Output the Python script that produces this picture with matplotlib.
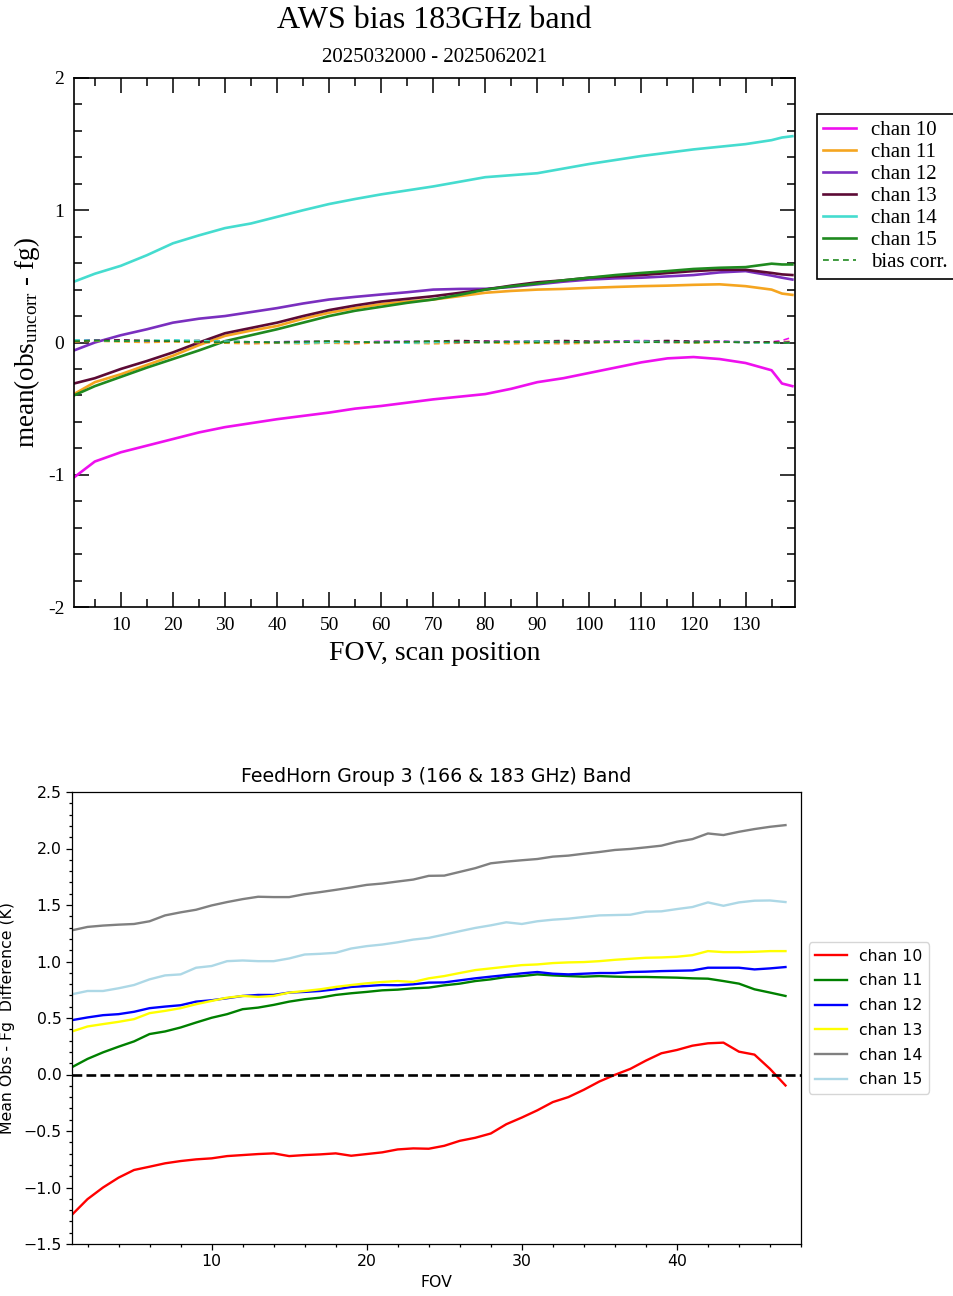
import matplotlib
matplotlib.use("Agg")
import matplotlib.pyplot as plt
from matplotlib.ticker import MultipleLocator, AutoMinorLocator

# ---------------- data: top panel (AWS bias, 183GHz band) ----------------
top_fov = [1, 5, 10, 15, 20, 25, 30, 35, 40, 45, 50, 55, 60, 65, 70, 75, 80, 85,
           90, 95, 100, 105, 110, 115, 120, 125, 130, 135, 137, 139]
top_chan10 = [-1.02, -0.90, -0.83, -0.78, -0.73, -0.68, -0.64, -0.61, -0.58, -0.555,
              -0.53, -0.50, -0.48, -0.455, -0.43, -0.41, -0.39, -0.35, -0.30, -0.27,
              -0.23, -0.19, -0.15, -0.12, -0.11, -0.125, -0.155, -0.21, -0.31, -0.33]
top_chan11 = [-0.39, -0.30, -0.24, -0.17, -0.10, -0.02, 0.05, 0.09, 0.125, 0.18,
              0.225, 0.26, 0.29, 0.31, 0.325, 0.35, 0.376, 0.39, 0.40, 0.405,
              0.413, 0.42, 0.426, 0.43, 0.436, 0.44, 0.426, 0.40, 0.37, 0.36]
top_chan12 = [-0.06, 0.0, 0.055, 0.10, 0.15, 0.18, 0.20, 0.23, 0.26, 0.295,
              0.325, 0.345, 0.363, 0.38, 0.40, 0.405, 0.406, 0.42, 0.44, 0.46,
              0.476, 0.485, 0.49, 0.50, 0.51, 0.53, 0.54, 0.506, 0.49, 0.476]
top_chan13 = [-0.31, -0.27, -0.20, -0.14, -0.075, 0.0, 0.07, 0.11, 0.15, 0.20,
              0.245, 0.28, 0.31, 0.33, 0.35, 0.375, 0.40, 0.43, 0.455, 0.47,
              0.49, 0.50, 0.51, 0.525, 0.54, 0.55, 0.55, 0.526, 0.515, 0.51]
top_chan14 = [0.46, 0.52, 0.58, 0.66, 0.75, 0.81, 0.865, 0.90, 0.95, 1.0,
              1.047, 1.085, 1.12, 1.15, 1.18, 1.215, 1.25, 1.265, 1.28, 1.315,
              1.35, 1.38, 1.41, 1.435, 1.46, 1.48, 1.50, 1.53, 1.55, 1.56]
top_chan15 = [-0.40, -0.33, -0.26, -0.19, -0.125, -0.06, 0.01, 0.055, 0.10, 0.15,
              0.20, 0.24, 0.27, 0.30, 0.325, 0.36, 0.40, 0.425, 0.446, 0.47,
              0.49, 0.51, 0.526, 0.54, 0.556, 0.565, 0.57, 0.596, 0.59, 0.59]

bias_chan10 = [0.01, 0.015, 0.01, 0.005, 0.01, 0.0, 0.005, 0.0, 0.005, 0.0,
               0.005, 0.0, 0.01, 0.005, 0.0, 0.005, 0.01, 0.005, 0.01, 0.0,
               0.005, 0.01, 0.015, 0.01, 0.005, 0.01, 0.0, 0.005, 0.015, 0.04]
bias_chan11 = [0.005, 0.01, 0.005, 0.0, 0.005, 0.0, -0.005, -0.01, -0.005, -0.01,
               -0.005, -0.01, 0.0, -0.005, -0.01, -0.005, 0.0, -0.01, -0.005, -0.01,
               -0.005, 0.0, 0.005, 0.0, -0.005, 0.0, 0.005, 0.0, 0.005, 0.01]
bias_chan12 = [0.015, 0.02, 0.015, 0.01, 0.015, 0.01, 0.005, 0.0, 0.005, 0.01,
               0.005, 0.0, 0.005, 0.01, 0.005, 0.0, 0.005, 0.01, 0.005, 0.0,
               0.005, 0.01, 0.005, 0.0, 0.005, 0.01, 0.005, 0.0, 0.0, 0.005]
bias_chan13 = [0.01, 0.015, 0.02, 0.015, 0.01, 0.015, 0.01, 0.005, 0.0, 0.005,
               0.01, 0.005, 0.0, 0.005, 0.01, 0.015, 0.01, 0.005, 0.01, 0.015,
               0.01, 0.005, 0.01, 0.015, 0.01, 0.005, 0.0, 0.005, 0.0, 0.0]
bias_chan14 = [0.02, 0.015, 0.01, 0.015, 0.02, 0.015, 0.01, 0.005, 0.0, -0.005,
               0.0, 0.005, 0.0, -0.005, 0.0, 0.005, 0.0, 0.005, 0.01, 0.005,
               0.0, 0.005, 0.01, 0.005, 0.0, 0.005, 0.0, -0.005, 0.0, -0.005]
bias_chan15 = [0.01, 0.015, 0.01, 0.015, 0.01, 0.005, 0.0, 0.005, 0.0, 0.005,
               0.01, 0.005, 0.0, 0.005, 0.01, 0.005, 0.0, 0.005, 0.0, 0.005,
               0.0, 0.005, 0.0, 0.005, 0.0, 0.005, 0.0, 0.0, -0.005, 0.0]

top_labels = ["chan 10", "chan 11", "chan 12", "chan 13", "chan 14", "chan 15"]
top_colors = ["#EE10EE", "#F5A520", "#7A2FBF", "#5C0A35", "#45DCCF", "#1F8A1F"]
top_ytick_vals = [-2, -1, 0, 1, 2]
top_ytick_labels = ["-2", "-1", "0", "1", "2"]
top_xtick_vals = [10, 20, 30, 40, 50, 60, 70, 80, 90, 100, 110, 120, 130]

# ---------------- data: bottom panel (FeedHorn Group 3) ----------------
bot_fov = list(range(1, 48))
bot_chan10 = [-1.241, -1.103, -1.0, -0.913, -0.845, -0.816, -0.786, -0.766, -0.751, -0.742,
              -0.722, -0.713, -0.704, -0.698, -0.722, -0.713, -0.707, -0.698, -0.719, -0.704,
              -0.689, -0.663, -0.654, -0.657, -0.631, -0.587, -0.56, -0.522, -0.44, -0.381,
              -0.317, -0.244, -0.2, -0.135, -0.062, -0.003, 0.05, 0.123, 0.188, 0.217,
              0.255, 0.276, 0.282, 0.202, 0.176, 0.05, -0.097]
bot_chan11 = [0.065, 0.138, 0.196, 0.246, 0.293, 0.358, 0.381, 0.416, 0.46, 0.502,
              0.534, 0.578, 0.592, 0.616, 0.645, 0.666, 0.68, 0.704, 0.719, 0.731,
              0.745, 0.751, 0.763, 0.769, 0.789, 0.804, 0.827, 0.842, 0.863, 0.871,
              0.886, 0.877, 0.871, 0.866, 0.871, 0.866, 0.863, 0.863, 0.86, 0.857,
              0.851, 0.848, 0.827, 0.804, 0.754, 0.725, 0.695]
bot_chan12 = [0.481, 0.505, 0.525, 0.534, 0.555, 0.587, 0.601, 0.613, 0.645, 0.657,
              0.675, 0.695, 0.704, 0.704, 0.725, 0.731, 0.739, 0.754, 0.775, 0.783,
              0.792, 0.79, 0.798, 0.813, 0.815, 0.833, 0.851, 0.866, 0.88, 0.895,
              0.907, 0.892, 0.886, 0.892, 0.898, 0.898, 0.907, 0.91, 0.915, 0.918,
              0.921, 0.945, 0.945, 0.945, 0.930, 0.939, 0.951]
bot_chan13 = [0.381, 0.425, 0.446, 0.466, 0.49, 0.543, 0.563, 0.587, 0.622, 0.651,
              0.68, 0.695, 0.687, 0.695, 0.725, 0.739, 0.754, 0.775, 0.792, 0.807,
              0.819, 0.827, 0.819, 0.851, 0.871, 0.898, 0.924, 0.939, 0.954, 0.968,
              0.974, 0.986, 0.992, 0.995, 1.003, 1.015, 1.024, 1.033, 1.036, 1.042,
              1.056, 1.092, 1.083, 1.083, 1.086, 1.092, 1.092]
bot_chan14 = [1.276, 1.306, 1.318, 1.326, 1.332, 1.356, 1.408, 1.435, 1.458, 1.496,
              1.526, 1.552, 1.573, 1.570, 1.570, 1.596, 1.614, 1.634, 1.655, 1.678,
              1.69, 1.708, 1.725, 1.758, 1.76, 1.793, 1.826, 1.869, 1.884, 1.896,
              1.907, 1.928, 1.937, 1.954, 1.969, 1.987, 1.996, 2.01, 2.025, 2.06,
              2.083, 2.133, 2.119, 2.148, 2.172, 2.192, 2.207]
bot_chan15 = [0.71, 0.739, 0.739, 0.763, 0.792, 0.842, 0.877, 0.886, 0.945, 0.96,
              1.003, 1.009, 1.003, 1.003, 1.027, 1.062, 1.068, 1.077, 1.115, 1.136,
              1.15, 1.17, 1.194, 1.209, 1.238, 1.268, 1.297, 1.32, 1.347, 1.332,
              1.356, 1.37, 1.379, 1.394, 1.408, 1.411, 1.414, 1.441, 1.444, 1.464,
              1.482, 1.523, 1.493, 1.523, 1.538, 1.54, 1.526]
bot_labels = ["chan 10", "chan 11", "chan 12", "chan 13", "chan 14", "chan 15"]
bot_colors = ["red", "green", "blue", "yellow", "gray", "lightblue"]

# ---------------- figure ----------------
W, H = 954, 1296
fig = plt.figure(figsize=(W / 100, H / 100), dpi=100)
plt.rcParams["mathtext.fontset"] = "custom"
plt.rcParams["mathtext.rm"] = "Liberation Serif"
plt.rcParams["mathtext.it"] = "Liberation Serif:italic"

serif = "Liberation Serif"

# ---- top panel ----
ax1 = fig.add_axes([74 / W, 1 - 607 / H, (795 - 74) / W, (607 - 78) / H])
top_series = [top_chan10, top_chan11, top_chan12, top_chan13, top_chan14, top_chan15]
bias_series = [bias_chan10, bias_chan11, bias_chan12, bias_chan13, bias_chan14, bias_chan15]
for vals, lab, col in zip(top_series, top_labels, top_colors):
    ax1.plot(top_fov, vals, color=col, lw=1.9, label=lab)
for i, (vals, col) in enumerate(zip(bias_series, top_colors)):
    ax1.plot(top_fov, vals, color=col, lw=1.2, ls=(0, (3.5, 2.5)),
             label="bias corr." if i == len(bias_series) - 1 else None)

ax1.set_xlim(1, 139.5)
ax1.set_ylim(-2, 2)
ax1.set_xticks(top_xtick_vals, labels=[str(v) for v in top_xtick_vals])
ax1.set_yticks(top_ytick_vals, labels=top_ytick_labels)
ax1.xaxis.set_minor_locator(MultipleLocator(5))
ax1.yaxis.set_minor_locator(MultipleLocator(0.2))
ax1.tick_params(which="both", direction="in", top=True, right=True, width=1.1,
                labelsize=14, pad=7)
ax1.tick_params(which="major", length=11)
ax1.tick_params(which="minor", length=5.5)
for lab in ax1.get_xticklabels() + ax1.get_yticklabels():
    lab.set_fontfamily(serif)
for sp in ax1.spines.values():
    sp.set_linewidth(1.2)
ax1.set_xlabel("FOV, scan position", fontfamily=serif, fontsize=20, labelpad=5)
ax1.set_ylabel(r"mean(obs$_{\mathrm{uncorr}}$ - fg)", fontfamily=serif, fontsize=19.5,
               labelpad=4)
fig.text(434.5 / W, 1 - 21 / H, "AWS bias 183GHz band", fontfamily=serif,
         fontsize=23, ha="center", va="center")
fig.text(434.5 / W, 1 - 57 / H, "2025032000 - 2025062021", fontfamily=serif,
         fontsize=15, ha="center", va="center")
leg1 = ax1.legend(loc="upper left", bbox_to_anchor=(817 / W, 1 - 114 / H),
                  bbox_transform=fig.transFigure, prop={"family": serif, "size": 15},
                  frameon=True, fancybox=False, framealpha=1, edgecolor="black",
                  handlelength=1.55, handletextpad=0.75, labelspacing=0.12,
                  borderpad=0.3, borderaxespad=0)
leg1.get_frame().set_linewidth(1.2)

# ---- bottom panel ----
ax2 = fig.add_axes([72 / W, 1 - 1244 / H, (801 - 72) / W, (1244 - 792) / H])
bot_series = [bot_chan10, bot_chan11, bot_chan12, bot_chan13, bot_chan14, bot_chan15]
for vals, lab, col in zip(bot_series, bot_labels, bot_colors):
    ax2.plot(bot_fov, vals, color=col, lw=1.7, label=lab)
ax2.axhline(0, color="black", ls="--", lw=1.9)
ax2.set_xlim(1, 48)
ax2.set_ylim(-1.5, 2.5)
ax2.xaxis.set_major_locator(MultipleLocator(10))
ax2.xaxis.set_minor_locator(AutoMinorLocator(5))
ax2.yaxis.set_major_locator(MultipleLocator(0.5))
ax2.yaxis.set_minor_locator(AutoMinorLocator(5))
ax2.tick_params(which="both", labelsize=11.3, width=0.9)
ax2.tick_params(which="major", length=4)
ax2.tick_params(which="minor", length=2.3)
for sp in ax2.spines.values():
    sp.set_linewidth(0.9)
ax2.set_title("FeedHorn Group 3 (166 & 183 GHz) Band", fontsize=13.6, pad=7)
ax2.set_xlabel("FOV", fontsize=11.3)
ax2.set_ylabel("Mean Obs - Fg  Difference (K)", fontsize=11.3, labelpad=6)
ax2.legend(loc="center left", bbox_to_anchor=(1, 0.5), fontsize=11.3,
           labelspacing=0.62)

fig.savefig("out.png", dpi=100)
